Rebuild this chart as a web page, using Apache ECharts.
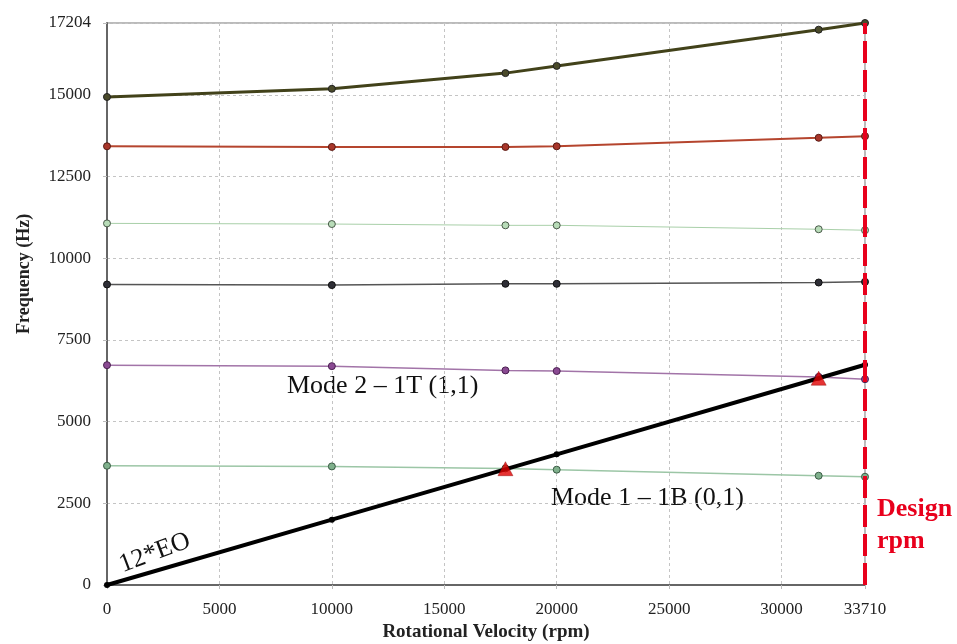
<!DOCTYPE html>
<html>
<head>
<meta charset="utf-8">
<script src="https://cdn.jsdelivr.net/npm/echarts@6/dist/echarts.min.js"></script>
<style>
html,body{margin:0;padding:0;background:#fff;}
#chart{width:957px;height:644px;}
</style>
</head>
<body>
<div id="chart"></div>
<script>
// ---- data ----
const xValues = [0, 10000, 17720, 20000, 31650, 33710];
const mode6 = [14940, 15190, 15670, 15890, 17000, 17204];
const mode5 = [13430, 13410, 13410, 13430, 13690, 13740];
const mode4 = [11070, 11050, 11010, 11010, 10890, 10860];
const mode3 = [9200, 9180, 9220, 9220, 9260, 9280];
const mode2 = [6730, 6700, 6570, 6550, 6370, 6300];
const mode1 = [3650, 3630, 3570, 3530, 3345, 3314];
const eoX = [0, 10000, 20000, 33710];
const eo12 = [0, 2000, 4000, 6742];
const crossX = [17720, 31650];
const crossY = [3560, 6330];
const designRpm = 33710;
const xMax = 33710;
const yMax = 17204;
const xTickStep = 5000;
const yTickStep = 2500;

const pairs = (xs, ys) => xs.map((x, i) => [x, ys[i]]);
const serif = 'Liberation Serif';

function modeSeries(name, ys, lineColor, width, fill, border) {
  return {
    name, type: 'line', data: pairs(xValues, ys),
    symbol: 'circle', symbolSize: 7,
    lineStyle: {color: lineColor, width},
    itemStyle: {color: fill, borderColor: border, borderWidth: 1},
    z: 3
  };
}

const chart = echarts.init(document.getElementById('chart'));
chart.setOption({
  animation: false,
  backgroundColor: '#fff',
  grid: {left: 107, right: 92, top: 23, bottom: 59, show: true, borderColor: '#777', borderWidth: 1, outerBoundsMode: 'none'},
  xAxis: {
    type: 'value', min: 0, max: xMax, interval: xTickStep,
    name: 'Rotational Velocity (rpm)', nameLocation: 'middle', nameGap: 38,
    nameTextStyle: {fontFamily: serif, fontWeight: 'bold', fontSize: 19, color: '#222'},
    axisLine: {show: true, lineStyle: {color: '#666', width: 2}},
    axisTick: {show: true, length: 6, lineStyle: {color: '#bbb', type: 'dashed'}},
    axisLabel: {fontFamily: serif, fontSize: 17, color: '#222', margin: 16, showMaxLabel: true,
      formatter: v => String(v)},
    splitLine: {show: true, lineStyle: {color: '#c4c4c4', type: [3, 3], width: 1}}
  },
  yAxis: {
    type: 'value', min: 0, max: yMax, interval: yTickStep,
    axisLine: {show: true, lineStyle: {color: '#666', width: 2}},
    axisTick: {show: true, length: 6, lineStyle: {color: '#bbb', type: 'dashed'}},
    axisLabel: {fontFamily: serif, fontSize: 17, color: '#222', margin: 16, showMaxLabel: true,
      formatter: v => String(v)},
    splitLine: {show: true, lineStyle: {color: '#c4c4c4', type: [3, 3], width: 1}}
  },
  series: [
    modeSeries('Mode 6', mode6, '#42421a', 3, '#4a4a2a', '#222'),
    modeSeries('Mode 5', mode5, '#b5452e', 2, '#a8362a', '#5a1a14'),
    modeSeries('Mode 4', mode4, '#a9d0a9', 1, '#b8dcb8', '#4a5a4a'),
    modeSeries('Mode 3', mode3, '#555555', 1.5, '#2e2e36', '#111'),
    modeSeries('Mode 2', mode2, '#a274a8', 1.5, '#8a4a92', '#4a2050'),
    modeSeries('Mode 1', mode1, '#9cc6a6', 1.5, '#7fb08c', '#3a5a44'),
    {
      name: '12*EO', type: 'line', data: pairs(eoX, eo12),
      symbol: 'circle', symbolSize: 6,
      lineStyle: {color: '#000', width: 4},
      itemStyle: {color: '#000'}, z: 4
    },
    {
      name: 'Crossings', type: 'scatter', data: pairs(crossX, crossY),
      symbol: 'triangle', symbolSize: [15, 14], clip: false,
      itemStyle: {color: '#e00000', borderColor: '#800', borderWidth: 0.5}, z: 6,
      markLine: {
        silent: true, symbol: 'none', animation: false, z: 8,
        lineStyle: {color: '#e8001c', width: 4, type: [22, 7]},
        label: {show: false},
        data: [{xAxis: designRpm}]
      }
    }
  ],
  graphic: [
    {type: 'text', x: 15, y: 334, rotation: Math.PI / 2,
     style: {text: 'Frequency (Hz)', font: 'bold 18px "Liberation Serif"', fill: '#222'}},
    {type: 'text', x: 287, y: 373, style: {text: 'Mode 2 – 1T (1,1)', font: '26px "Liberation Serif"', fill: '#111'}},
    {type: 'text', x: 551, y: 485, style: {text: 'Mode 1 – 1B (0,1)', font: '26px "Liberation Serif"', fill: '#111'}},
    {type: 'text', x: 125, y: 578, rotation: 0.36, style: {text: '12*EO', font: '26px "Liberation Serif"', fill: '#111', verticalAlign: 'bottom'}},
    {type: 'text', x: 877, y: 493, style: {text: 'Design\nrpm', font: 'bold 26px "Liberation Serif"', fill: '#e8001c', lineHeight: 32}}
  ]
});
</script>
</body>
</html>
